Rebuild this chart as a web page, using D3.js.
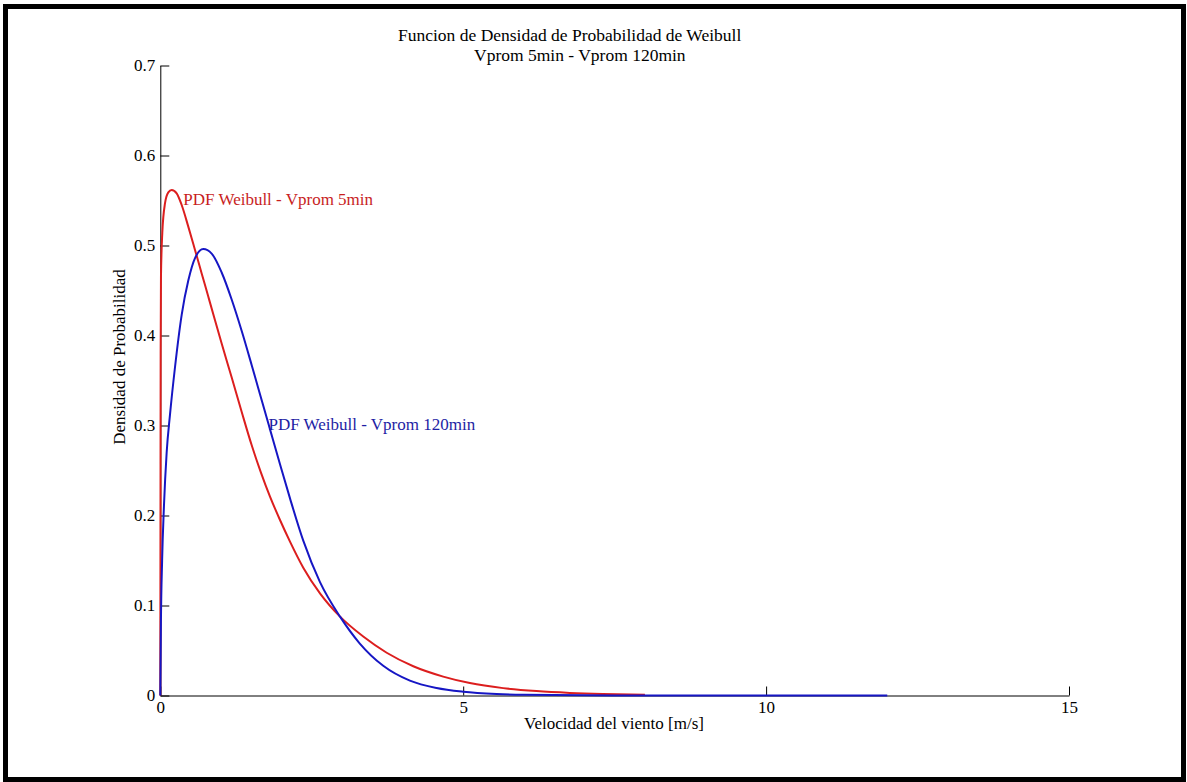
<!DOCTYPE html>
<html>
<head>
<meta charset="utf-8">
<script src="https://cdn.jsdelivr.net/npm/d3@7"></script>
<style>
  html, body { margin: 0; padding: 0; background: #fff; }
  svg { display: block; }
  text { font-family: "Liberation Serif", "Times New Roman", serif; fill: #000; }
</style>
</head>
<body>
<svg id="chart" width="1187" height="782"></svg>
<script>
// Wind speed (m/s) and Weibull density for 5-minute averages
const speed5 = [0, 0.003, 0.006, 0.011, 0.033, 0.078, 0.132, 0.188, 0.27, 0.353, 0.462, 0.573, 0.683, 0.793,
  0.903, 1.013, 1.18, 1.344, 1.509, 1.66, 1.811, 1.976, 2.141, 2.36, 2.636, 2.967, 3.35, 3.737, 4.176,
  4.67, 5.11, 5.66, 6.21, 6.76, 7.3, 8.0];
const pdf5 = [0, 0.2, 0.38, 0.465, 0.514, 0.547, 0.559, 0.5617, 0.558, 0.545, 0.521, 0.495, 0.469, 0.443,
  0.417, 0.391, 0.353, 0.315, 0.278, 0.248, 0.221, 0.195, 0.171, 0.142, 0.1135, 0.0876, 0.0655, 0.0475, 0.0325,
  0.021, 0.0138, 0.0082, 0.0049, 0.0029, 0.0017, 0.0009];

// Wind speed (m/s) and Weibull density for 120-minute averages
const speed120 = [0, 0.01, 0.03, 0.06, 0.105, 0.16, 0.243, 0.353, 0.462, 0.573, 0.71, 0.848, 1.013, 1.178,
  1.344, 1.509, 1.674, 1.81, 1.976, 2.141, 2.36, 2.636, 2.967, 3.29, 3.68, 4.12, 4.56,
  5.0, 5.55, 6.0, 7.0, 8.0, 10.0, 12.0];
const pdf120 = [0, 0.08, 0.15, 0.21, 0.27, 0.312, 0.365, 0.423, 0.461, 0.486, 0.496, 0.491, 0.470, 0.440,
  0.405, 0.367, 0.328, 0.296, 0.257, 0.219, 0.172, 0.126, 0.0876, 0.058, 0.033, 0.0165, 0.0083,
  0.0042, 0.0017, 0.0008, 0.0002, 0.0001, 0, 0];

const xTicks = [0, 5, 10, 15];
const xTickLabels = ["0", "5", "10", "15"];
const yTicks = [0, 0.1, 0.2, 0.3, 0.4, 0.5, 0.6, 0.7];
const yTickLabels = ["0", "0.1", "0.2", "0.3", "0.4", "0.5", "0.6", "0.7"];

const titleLines = ["Funcion de Densidad de Probabilidad de Weibull", "Vprom 5min - Vprom 120min"];
const xTitle = "Velocidad del viento [m/s]";
const yTitle = "Densidad de Probabilidad";
const label5 = "PDF Weibull - Vprom 5min";
const label120 = "PDF Weibull - Vprom 120min";

const svg = d3.select("#chart");

// Figure frame
svg.append("rect")
  .attr("x", 5.5).attr("y", 6.5).attr("width", 1178).attr("height", 773)
  .attr("fill", "#fff").attr("stroke", "#000").attr("stroke-width", 5);

const x = d3.scaleLinear().domain([0, 15]).range([160.3, 1069]);
const y = d3.scaleLinear().domain([0, 0.7]).range([695.5, 65.5]);

const fontSize = 17;

// Axes with inward ticks
const xAxis = d3.axisBottom(x).tickValues(xTicks)
  .tickFormat((d, i) => xTickLabels[i])
  .tickSizeInner(-9).tickSizeOuter(0).tickPadding(5);
const yAxis = d3.axisLeft(y).tickValues(yTicks)
  .tickFormat((d, i) => yTickLabels[i])
  .tickSizeInner(-9).tickSizeOuter(0).tickPadding(5);

const gx = svg.append("g").attr("transform", `translate(0,${y(0)})`).call(xAxis);
const gy = svg.append("g").attr("transform", `translate(${x(0)},0)`).call(yAxis);
[gx, gy].forEach(g => {
  g.attr("font-family", null).attr("font-size", null);
  g.selectAll("text").style("font-size", fontSize + "px");
  g.selectAll("path, line").attr("stroke", "#000").attr("stroke-width", 1);
});

// Density curves
const line = d3.line()
  .x(d => x(d[0]))
  .y(d => y(d[1]))
  .curve(d3.curveMonotoneX);

svg.append("path")
  .datum(d3.zip(speed5, pdf5))
  .attr("d", line)
  .attr("fill", "none").attr("stroke", "#dc1e1e").attr("stroke-width", 2);

svg.append("path")
  .datum(d3.zip(speed120, pdf120))
  .attr("d", line)
  .attr("fill", "none").attr("stroke", "#1616c4").attr("stroke-width", 2);

// Curve annotations
svg.append("text")
  .attr("x", x(0.38)).attr("y", 204.5)
  .style("font-size", fontSize + "px")
  .style("fill", "#c81e1e")
  .text(label5);

svg.append("text")
  .attr("x", x(1.785)).attr("y", 430)
  .style("font-size", fontSize + "px")
  .style("fill", "#1e1ea4")
  .text(label120);

// Title (two lines)
svg.append("text")
  .attr("x", 398).attr("y", 41)
  .style("font-size", "17.5px")
  .text(titleLines[0]);
svg.append("text")
  .attr("x", 474).attr("y", 61)
  .style("font-size", "17.5px")
  .text(titleLines[1]);

// Axis titles
svg.append("text")
  .attr("x", 614).attr("y", 729)
  .attr("text-anchor", "middle")
  .style("font-size", fontSize + "px")
  .text(xTitle);

svg.append("text")
  .attr("transform", "translate(125,357) rotate(-90)")
  .attr("text-anchor", "middle")
  .style("font-size", fontSize + "px")
  .text(yTitle);
</script>
</body>
</html>
